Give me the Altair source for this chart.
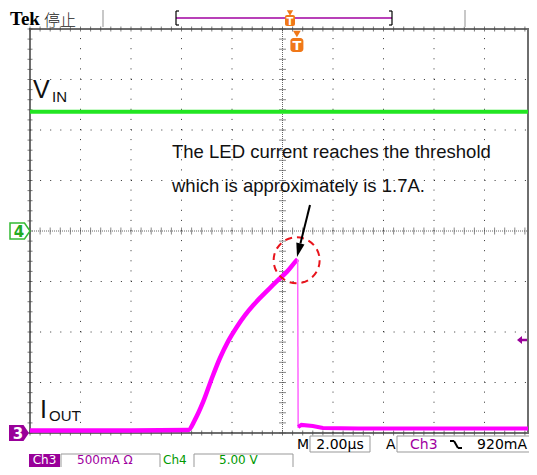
import altair as alt
import pandas as pd
import numpy as np

# ---------------- data (read from the scope screen) ----------------
# time in microseconds (2 us/div, 10 div), Ch4 = VIN (5 V/div, ground at centre),
# Ch3 = IOUT (500 mA/div, ground at bottom line)
vin_t = [-10.0, -6.0, -2.0, 2.0, 6.0, 10.0]
vin_v = [11.8, 11.8, 11.8, 11.8, 11.8, 11.8]

iout_t = [-10.0, -6.0, -3.73, -3.47, -3.14, -2.80, -2.48, -2.15, -1.81, -1.49,
          -1.16, -0.82, -0.50, -0.17, 0.17, 0.56, 0.60]
iout_a = [0.025, 0.025, 0.03, 0.13, 0.31, 0.54, 0.74, 0.91, 1.05, 1.165,
          1.265, 1.355, 1.435, 1.515, 1.595, 1.71, 1.72]
drop_t = [0.60, 0.62]
drop_a = [1.72, 0.05]
tail_t = [0.62, 0.75, 1.2, 1.6, 3.0, 10.0]
tail_a = [0.06, 0.08, 0.07, 0.05, 0.045, 0.045]

peak_t = [0.56]
peak_a = [1.71]
trigger_t = 0.57       # us
trigger_level = 0.92   # A

CH3_A_PER_DIV = 0.5
CH3_OFFSET_DIV = -4
CH4_V_PER_DIV = 5.0
CH4_OFFSET_DIV = 0

# ---------------- layout ----------------
DIV = 50.5                 # pixels per division
W, H = 498, 404            # visible plot (page is 537 wide, right edge trimmed)
OX, OY = 30, 29            # page position of plot origin
XMAX = -10 + W * 2 / DIV   # us at right edge of visible area


def P(x, y):
    return x - OX, y - OY


xs = alt.Scale(domain=[-10, XMAX], nice=False, zero=False)
ys = alt.Scale(domain=[-4, 4], nice=False, zero=False)
X = lambda f: alt.X(f, type="quantitative", scale=xs, axis=None)
Y = lambda f: alt.Y(f, type="quantitative", scale=ys, axis=None)


def ch4(v):
    return v / CH4_V_PER_DIV + CH4_OFFSET_DIV


def ch3(a):
    return a / CH3_A_PER_DIV + CH3_OFFSET_DIV


vin_df = pd.DataFrame({"t": vin_t, "d": [ch4(v) for v in vin_v]})
rise_df = pd.DataFrame({"t": iout_t, "d": [ch3(a) for a in iout_a]})
drop_df = pd.DataFrame({"t": drop_t, "d": [ch3(a) for a in drop_a]})
tail_df = pd.DataFrame({"t": tail_t, "d": [ch3(a) for a in tail_a]})

one = pd.DataFrame({"k": [0]})
layers = []

# ---------------- graticule ----------------
vx = [v for v in np.arange(-8, 9, 2) if v != 0]
hy = [v for v in np.arange(-3, 4, 1) if v != 0]
vgrid = pd.DataFrame({"t": vx, "y0": -4, "y1": 4})
hgrid = pd.DataFrame({"d": hy, "x0": -10, "x1": XMAX})
dot = [1, DIV / 5 - 1]
layers.append(alt.Chart(vgrid).mark_rule(color="#333", strokeWidth=1, strokeDash=dot)
              .encode(x=X("t"), y=Y("y0"), y2="y1"))
layers.append(alt.Chart(hgrid).mark_rule(color="#333", strokeWidth=1, strokeDash=dot)
              .encode(y=Y("d"), x=X("x0"), x2="x1"))
# centre axes
layers.append(alt.Chart(pd.DataFrame({"t": [0], "y0": [-4], "y1": [4]}))
              .mark_rule(color="#666", strokeWidth=1, strokeDash=[1, 1])
              .encode(x=X("t"), y=Y("y0"), y2="y1"))
layers.append(alt.Chart(pd.DataFrame({"d": [0], "x0": [-10], "x1": [XMAX]}))
              .mark_rule(color="#666", strokeWidth=1, strokeDash=[1, 1])
              .encode(y=Y("d"), x=X("x0"), x2="x1"))
yt = pd.DataFrame({"d": np.round(np.arange(-4, 4.01, 0.2), 2), "t": 0.0})
xt_all = np.round(np.arange(-10, 10.01, 0.4), 2)
xt = pd.DataFrame({"t": [v for v in xt_all if v < XMAX], "d": 0.0})
layers.append(alt.Chart(yt).mark_tick(color="#555", orient="horizontal", size=7, thickness=1)
              .encode(x=X("t"), y=Y("d")))
layers.append(alt.Chart(xt).mark_tick(color="#555", orient="vertical", size=7, thickness=1)
              .encode(x=X("t"), y=Y("d")))
# border ticks
bt = pd.concat([xt.assign(d=4.0), xt.assign(d=-4.0)])
lt = yt.assign(t=-10.0)
layers.append(alt.Chart(bt).mark_tick(color="#444", orient="vertical", size=5, thickness=1)
              .encode(x=X("t"), y=Y("d")))
layers.append(alt.Chart(lt).mark_tick(color="#444", orient="horizontal", size=5, thickness=1)
              .encode(x=X("t"), y=Y("d")))

# ---------------- traces ----------------
layers.append(alt.Chart(vin_df).mark_line(color="#22e622", strokeWidth=4, clip=True)
              .encode(x=X("t"), y=Y("d")))
layers.append(alt.Chart(rise_df).mark_line(color="#ff00ff", strokeWidth=4.5, clip=True,
                                           interpolate="monotone")
              .encode(x=X("t"), y=Y("d")))
layers.append(alt.Chart(drop_df).mark_line(color="#ff66ff", strokeWidth=1.5)
              .encode(x=X("t"), y=Y("d")))
layers.append(alt.Chart(tail_df).mark_line(color="#ff00ff", strokeWidth=4, clip=True)
              .encode(x=X("t"), y=Y("d")))

# ---------------- annotation ----------------
peak_df = pd.DataFrame({"t": peak_t, "d": [ch3(a) for a in peak_a]})
layers.append(alt.Chart(peak_df).mark_point(shape="circle", size=46 * 46, filled=False,
                                             color="#e8141c", strokeWidth=2, strokeDash=[7, 5], opacity=1)
              .encode(x=X("t"), y=Y("d")))


def text_at(s, x, y, size, color="#111", font="Liberation Sans", weight="normal",
            align="left", baseline="alphabetic"):
    px, py = P(x, y)
    return alt.Chart(one).mark_text(text=s, fontSize=size, color=color, font=font,
                                    fontWeight=weight, align=align, baseline=baseline) \
        .encode(x=alt.value(px), y=alt.value(py))


def rule_px(x1, y1, x2, y2, color, width=1):
    a, b = P(x1, y1)
    c, d = P(x2, y2)
    return alt.Chart(one).mark_rule(color=color, strokeWidth=width) \
        .encode(x=alt.value(a), y=alt.value(b), x2=alt.value(c), y2=alt.value(d))


def rect_px(x1, y1, x2, y2, fill, stroke=None, sw=1, radius=0):
    a, b = P(x1, y1)
    c, d = P(x2, y2)
    kw = dict(fill=fill, cornerRadius=radius)
    if stroke:
        kw.update(stroke=stroke, strokeWidth=sw)
    return alt.Chart(one).mark_rect(**kw) \
        .encode(x=alt.value(a), y=alt.value(b), x2=alt.value(c), y2=alt.value(d))


def sym_px(x, y, shape, size, color, angle=0, filled=True, stroke=None):
    px, py = P(x, y)
    kw = dict(shape=shape, size=size, filled=filled, opacity=1, angle=angle)
    if filled:
        kw.update(fill=color)
        if stroke:
            kw.update(stroke=stroke, strokeWidth=1.5)
        else:
            kw.update(strokeWidth=0)
    else:
        kw.update(stroke=color)
    return alt.Chart(one).mark_point(**kw).encode(x=alt.value(px), y=alt.value(py))


layers.append(text_at("The LED current reaches the threshold", 172, 158, 18.5))
layers.append(text_at("which is approximately is 1.7A.", 172, 191.5, 18.5))
# arrow
layers.append(rule_px(310, 205, 300.4, 243.4, "#000", 2))
layers.append(sym_px(298.7, 250.2, "M 0 1 L -0.6 -1 L 0.6 -1 Z", 196, "#000", angle=14))

# channel labels
layers.append(text_at("V", 33, 98, 25, color="#111"))
layers.append(text_at("IN", 52, 102, 15, color="#111"))
layers.append(text_at("I", 40, 418, 25, color="#111"))
layers.append(text_at("OUT", 49, 421, 15, color="#111"))

# trigger level marker (right edge)
tl_px = OY + H / 2 - ch3(trigger_level) * H / 8
layers.append(sym_px(522, tl_px, "M -1 0 L 0 -0.8 L 0 -0.25 L 1 -0.25 L 1 0.25 L 0 0.25 L 0 0.8 Z",
                     100, "#990099"))

# trigger position marker (top of graticule)
tp_px = OX + 5 * DIV + trigger_t * DIV / 2
layers.append(sym_px(tp_px, 34, "triangle-down", 60, "#f07818"))
layers.append(rect_px(tp_px - 6.5, 38, tp_px + 6.5, 52, "#f07818", radius=3))
layers.append(text_at("T", tp_px, 50, 13, color="white", font="DejaVu Sans", weight="bold", align="center"))

# channel ground markers (left)
pent = "M -1 -0.8 L 0.45 -0.8 L 1 0 L 0.45 0.8 L -1 0.8 Z"
layers.append(sym_px(20, 231, pent, 400, "white", stroke="#33bb33"))
layers.append(text_at("4", 19, 237, 15, color="#22aa22", font="DejaVu Sans", weight="bold", align="center"))
layers.append(sym_px(19, 433, pent, 400, "#990099"))
layers.append(text_at("3", 18, 439, 15, color="white", font="DejaVu Sans", weight="bold", align="center"))

# ---------------- top status bar ----------------
layers.append(text_at("Tek", 10, 25, 19, color="#000", font="Liberation Serif", weight="bold"))
layers.append(text_at("停止", 44, 26, 16, color="#222", font="Noto Sans CJK SC", weight=300))
layers.append(rule_px(103, 10, 103, 27, "#c8c8c8", 2))
layers.append(rule_px(465, 10, 465, 27, "#c8c8c8", 2))
layers.append(rule_px(176, 18, 392, 18, "#a000a0", 1.5))
for bx, d in [(176, 3), (392, -3)]:
    layers.append(rule_px(bx, 11, bx, 25, "#000", 1.2))
    layers.append(rule_px(bx, 11, bx + d, 11, "#000", 1.2))
    layers.append(rule_px(bx, 25, bx + d, 25, "#000", 1.2))
layers.append(sym_px(290, 13, "triangle-down", 40, "#f07818"))
layers.append(rect_px(285, 15, 295, 26, "#f07818", radius=2))
layers.append(text_at("T", 290, 24.5, 10, color="white", font="DejaVu Sans", weight="bold", align="center"))

# ---------------- bottom status bar ----------------
SF = "DejaVu Sans"
layers.append(text_at("M", 297, 449, 14, color="#000", font=SF))
layers.append(rect_px(310, 436, 370, 452, "white", "#999"))
layers.append(text_at("2.00µs", 340, 449, 14, color="#000", font=SF, align="center"))
layers.append(text_at("A", 386, 449, 14, color="#000", font=SF))
layers.append(rect_px(397, 436, 540, 452, "white", "#999"))
layers.append(text_at("Ch3", 410, 449, 14, color="#a000a0", font=SF))
layers.append(rule_px(450, 441, 454, 441, "#000", 2))
layers.append(rule_px(454, 441, 458, 448, "#000", 2))
layers.append(rule_px(458, 448, 462, 448, "#000", 2))
layers.append(text_at("920mA", 527, 449, 14, color="#000", font=SF, align="right"))

layers.append(rect_px(29, 454, 60, 470, "#990099"))
layers.append(text_at("Ch3", 44.5, 463.5, 12, color="white", font=SF, align="center"))
layers.append(rect_px(61, 454, 160, 470, "white", "#999"))
layers.append(text_at("500mA Ω", 77, 463.5, 12, color="#a000a0", font=SF))
layers.append(text_at("Ch4", 163, 463.5, 12, color="#009900", font=SF))
layers.append(rect_px(194, 454, 293, 470, "white", "#999"))
layers.append(text_at("5.00 V", 219, 463.5, 12, color="#009900", font=SF))

chart = alt.layer(*layers).properties(
    width=W, height=H,
    padding={"left": 22, "top": 21, "right": 1, "bottom": 34},
    autosize="none",
    background="white",
).configure_view(stroke="#6e6e6e", strokeWidth=2)

chart.save("out.html", embed_options={"renderer": "svg", "actions": False})
